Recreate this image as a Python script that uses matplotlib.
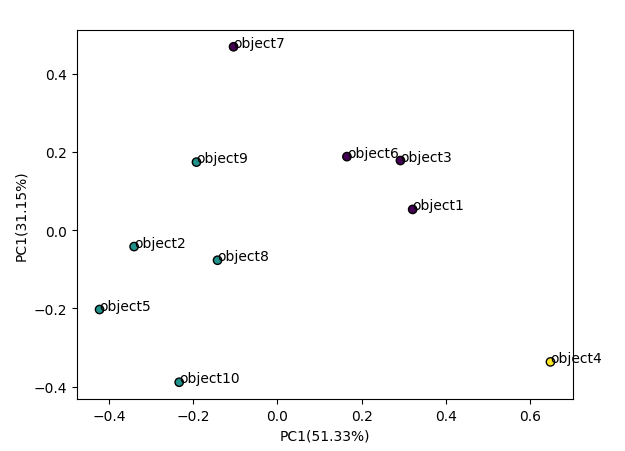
import matplotlib
matplotlib.use("Agg")
import matplotlib.pyplot as plt
import numpy as np

# PCA 坐标
names = ["object1", "object2", "object3", "object4", "object5",
         "object6", "object7", "object8", "object9", "object10"]
pc1 = [0.321, -0.340, 0.292, 0.648, -0.422, 0.165, -0.104, -0.142, -0.192, -0.233]
pc2 = [0.053, -0.042, 0.178, -0.337, -0.203, 0.188, 0.469, -0.077, 0.174, -0.389]
labels = [0, 1, 0, 2, 1, 0, 0, 1, 1, 1]  # 聚类标签

fig = plt.figure(figsize=(6.25, 4.52), dpi=100)
ax = fig.add_axes([77 / 625, 52 / 452, 496 / 625, 369 / 452])

ax.scatter(pc1, pc2, c=labels, cmap="viridis", edgecolors="k")
for name, x, y in zip(names, pc1, pc2):
    ax.annotate(name, (x, y))

ax.set_xlabel("PC1(51.33%)")
ax.set_ylabel("PC1(31.15%)")

fig.savefig("out.png", dpi=100)
